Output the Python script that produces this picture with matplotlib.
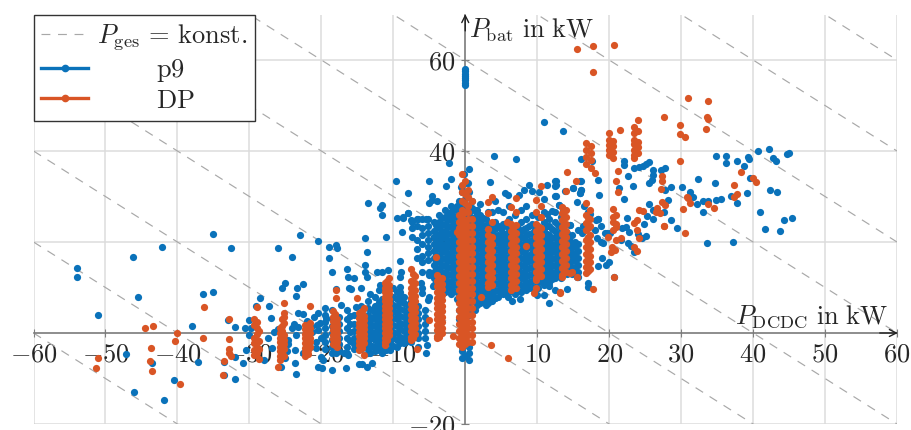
import matplotlib
matplotlib.use('Agg')
import matplotlib.pyplot as plt
from matplotlib.lines import Line2D

plt.rcParams['mathtext.fontset'] = 'cm'
plt.rcParams['font.family'] = 'serif'
plt.rcParams['font.serif'] = ['cmr10']
plt.rcParams['axes.formatter.use_mathtext'] = True

BLUE = '#0a72ba'
ORANGE = '#d95525'
TEXT = '#262626'

x_ticks = [-60, -50, -40, -30, -20, -10, 10, 20, 30, 40, 50, 60]
y_ticks = [-20, 20, 40, 60]
p_ges_levels = [-80, -60, -40, -20, 0, 20, 40, 60, 80, 100, 120]

# p9, einzelne Punkte links
p9_left_x = [-54, -53.9, -51, -46.2, -45.5, -46.1, -41.9, -42.1, -47.2, -43.6, -40.5, -38, -37.1, -35.1,
             -32.6, -36.4, -35, -33, -32, -30.1, -30.6, -29.8, -30, -30.5, -30.9, -32, -33.5, -32, -33.5, -28,
             -27.4, -27.3, -28.5, -29.1, -26.6, -26, -26, -24.1, -25.5, -25, -23.4, -22.5, -23.5, -23.3, -22.6,
             -22, -21, -20.4, -23.8, -23.2, -24.1, -23.5, -23.6, -22.5, -23.7, -23.5,
             -25.6, -20.5, -20.8, -20.4, -22.9, -20.5, -19, -18, -17.8, -18.9, -18.5, -16.5, -16.3, -15.4,
             -14, -13.7, -13.7, -14, -14, -12.2, -11.5, -10.7, -14.5, -16.2, -15.9, -18, -13.3, -11, -8.8,
             -18.5, -16.6, -14.8, -14.3, -13.7, -13, -20.1, -19.7, -19.9, -18, -16.9, -16.3, -13.2, -11.6,
             -10.4, -5.4, -5.3, -6.5, -26.8, -24.6, -25, -21.5, -20.2, -19.4,
             -20.6, -20.7, -20, -21.6, -21.3, -24.6, -24.8, -27, -19.5, -17.2, -15.2]
p9_left_y = [14.3, 12.2, 4, 16.6, 8, -13, -14.7, 19, -4.6, -6.5, -10.3, 1.6, -6.4, 21.8,
             18.7, 8.5, 9, 2.9, 1.3, 2.9, 1.2, 1.2, -0.5, -3.8, -6.7, -10.1, -9.2, -5.2, -6.3, -5.9,
             -1.2, 6, 7.6, 5.9, 0.3, 0.8, 18.6, 16.8, 10, 10.9, 9.8, 10.8, 8.2, 4.5, 4.1,
             2.7, 3.6, 4.5, 2, 1.4, 1, -0.4, -3.7, -4.5, -6.7, -9.1,
             -7.4, -7.4, -1.9, 0.7, 21.5, 20.2, 19, 19.3, 18.6, 16.4, 13.3, 14, 12.2, 12.1,
             20.8, 17.7, 12.4, 14.9, 13.5, 13.5, 13.5, 13.8, 10, 9.8, 9.6, 9.6, 8.6, 21.2, 22.3,
             -8.1, -7.8, -6.8, -6.8, -7.4, -6.7, -5.2, -5.9, -7.8, -4.5, -4.5, -4.8, -4.5, -3.7,
             -3.7, -4.5, -2.6, -3, -3.2, -2.4, -5.6, 1.3, 2.2, 3.4,
             1.8, -3.3, -1.1, -3, 0.2, -1.6, -3.9, 3.4, 5.6, 6.2, 5.7]

# p9, lockere Punkte oberhalb der Mitte
p9_upper_x = [-2.2, 4, 7, -5, -2, -2.7, -9.6, -8, -13.5, -11.5, -11.8, -11.5, -9.5, -4.6, -5, -3.9, -4.6,
              -1.2, -8, -8.6, -7.5, -6.5, -5.4, -2.5, -9, -8.6, -8, -11.8, -12, -10, -9, -9, -8.9, -6.2,
              -6, -6, -5.1, -4.5, -5, -5, -9, -10, -5.2, -0.2, 0.4, -0.6, 0, 0, 0, 0, 0, 0, 0, 0,
              3.5, 8.8, 1, 2.1, 4.2, 5.5, 5.9, 7.5, 8.1, 9.3, 10.2, 10.9, 11.3, 12, 13, 1.7, 3.2]
p9_upper_y = [37.4, 39, 38.2, 33.5, 33.8, 32.3, 33.5, 30.7, 28.6, 28.1, 27.4, 25.9, 25.3, 30.1, 28.5, 29.1, 29.2,
              27.9, 26.4, 25.4, 24.8, 25, 25, 25.6, 15.8, 25.3, 26.3, 10.5, 9.4, 10, 10.2, 12.4, 13.5, 10.9,
              9.8, 8.7, 8, 10.3, 13.5, 12.7, 9.1, 8, 7.3, 35, 33, 32, 54.5, 55, 55.5, 56, 56.5, 57, 57.5, 58,
              33.1, 32.5, 27.5, 28.3, 29, 30.7, 30.4, 30.4, 31.4, 31.2, 31, 29.4, 26.2, 26.8, 28.1, 27.1, 26.5]

# p9, rechte Seite
p9_right_x = [11, 13.6, 34.9, 36.2, 36.2, 37.8, 39.3, 39.5, 38.7, 40.7, 42.2, 42.8, 43.2, 44.7, 45, 39.6, 42.3,
              43.3, 39.2, 37, 37.8, 40.9, 45.4, 44.3, 41.6, 43.7, 33.6, 37.2, 33.1, 34.7, 32.4, 30.1, 28.6,
              27.8, 31.3, 31.7, 32.2, 33, 33.8, 34.8, 35.5, 29.4, 28.6, 28.2, 27.6, 26.1, 24.9, 25.6, 25.2,
              26.1, 25.1, 22.5, 22.6, 23.3, 21.3, 22, 18.6, 18.5, 16, 16.1, 15.9, 15, 13.8, 16.1, 17.6, 22.1,
              22.1, 23.5, 24.1, 24.7, 25.1, 25.6, 26.1, 26.1, 25.9, 25.5, 27.2, 27.7, 12.5, 12.5, 11.4, 12.5,
              18.5, 18.9, 16.4, 16.2, 14.6, 18.1, 19.4, 20.1, 18.3, 18.8, 19.2, 21.8, 22.4, 22.7, 21.7, 22.6,
              19, 20, 19.5, 18.5, 15.6, 17.1, 17.1, 14.2, 11.7, 12.5, 11, 12.6, 12.6, 12.6, 15, 16.1, 16,
              16.1, 18.5, 19.7, 15.3, 15.7, 16.7, 14.6, 16.5, 17.3, 18.2, 17, 15.5, 13, 13.6, 10, 7.6, 6.5,
              6, 4.2, 3.2, 2.9, 11.6, 15.5, 20.7, 24, 24.6, 23, 23.5]
p9_right_y = [46.4, 44.4, 38.9, 38.9, 37.3, 37.9, 38.7, 38.2, 36.6, 40.1, 40.5, 38.4, 37.7, 39.3, 39.6, 34.1, 31.4,
              30.9, 30.7, 30.2, 28.5, 26.7, 25.3, 24.8, 22.8, 22.5, 19.8, 20.1, 26.6, 32.9, 33.8, 32, 32,
              31.4, 30.9, 30, 28.4, 29.1, 29.1, 29.2, 29.5, 23, 24.9, 29.2, 26.7, 25.1, 23.9, 28.3, 25.8,
              27, 21.3, 25.3, 34.4, 32.3, 31.8, 29.5, 30.3, 33.6, 33.4, 31.4, 30.7, 31.8, 31.3, 38.2, 37.7, 37.7,
              36.9, 36.2, 36.4, 36.7, 37.1, 37.5, 35.8, 34.7, 33.6, 32.9, 35.8, 36.3, 33.3, 32.4, 32.5, 30.2,
              25, 23.6, 23.6, 21.9, 23.7, 22.6, 21.9, 21.9, 20.8, 20, 19.7, 23, 23.4, 22.3, 20.4, 19.7,
              16.4, 15.7, 14.9, 14.7, 12.2, 10.9, 10.2, 9.7, 10.3, 9.5, 8.4, 33.3, 32.5, 30.1, 31.8, 31.4, 30.7,
              33.5, 25, 21.9, 20, 22.6, 23.7, 23.7, 27.9, 26.2, 24.8, 26.5, 28.8, 28.1, 27.2, 8.4, 7.4, 7.1,
              8, 7.6, 6.5, 6.2, 6.7, 12.2, 12.2, 21.7, 20.9, 19.2, 17.8]

# p9, dichte Bereiche als Spalten
p9_col_x = [-19.5, -18.5, -17.5, -16.5, -15.5, -14.5, -13.5, -12.5, -11.5, -10.5, -9.5, -8.5, -7.5, -6.5, -5.6,
            -7.4, -6.7, -6, -5.2, -4.4, -3.6, -2.8, -2, -1.2, -0.5, 0.5, 1.3, 2.1, 2.9, 3.7, 4.5, 5.3, 6.1,
            6.9, 7.7, 8.5, 9.3, 10.1, 10.9, 11.7, 12.5, 13.3, 14.1, 14.9, 15.7]
p9_col_y = [
    [4, 2.5, 1, -0.5, -2, -3.5], [5, 3, 1.5, 0, -1.5, -3, -4.5], [3.5, 2, 0.5, -1, -2.5, -4],
    [5, 3, 1, -1, -3, -4.5], [4, 2, 0.5, -1, -2.5, -3.5], [6, 4, 2.5, 1, -0.5, -2, -3.5],
    [7, 5.5, 4, 2.5, 1, -0.5, -2, -3.5, -4.5], [8, 6, 4.5, 3, 1.5, 0, -1.5, -3, -4],
    [7.5, 6, 4.5, 3, 1.5, 0, -1.5, -3, -4.5], [7, 5.5, 4, 2.5, 1, -0.5, -2, -3.5],
    [9, 7.5, 6, 4.5, 3, 1.5, 0, -1.5, -3], [8, 6.5, 5, 3.5, 2, 0.5, -1, -2.3],
    [7, 5, 3.5, 2, 0.5, -1, -2], [6, 4.5, 3, 1.5, 0, -1.2], [5, 3.5, 2, 0.5, -1],
    [24.5, 23, 21], [25, 23.5, 20.5, 18.5, 16.5], [25, 23, 21.5, 19.5, 17, 15.5, 13.5],
    [25, 23.5, 22, 20.5, 19, 17.5, 16], [24.5, 22.5, 21, 19.5, 18, 16.5, 15, 13.5, 12, 10.5],
    [26, 24.5, 23, 21.5, 20, 18.5, 17, 15.5, 14, 12.5, 11, 9.5],
    [27, 25.5, 24, 22.5, 21, 19.5, 18, 16.5, 15, 13.5, 12, 10.5, 9],
    [28, 26.5, 25, 23.5, 22, 20.5, 19, 17.5, 16, 14.5, 13, 11.5, 10, 8.5],
    [27, 25.5, 24, 22.5, 21, 19.5, 18, 16.5, 15, 13.5, 12, 10.5, 9, 7.5],
    [31, 28, 26, 24, 22, 20, 18, 16, 14, 12, 10, 8, 6, 4, 2, 0, -2, -3, -4, -5.5],
    [36, 31, 28, 26, 24, 22, 20, 18, 16, 14, 12, 10, 8, 6, 4, -3, -4.5, -6],
    [27, 25.5, 24, 22.5, 21, 19.5, 18, 16.5, 15, 13.5, 12, 10.5, 9, 7, 5],
    [26, 24.5, 23, 21.5, 20, 18.5, 17, 15.5, 14, 12.5, 11, 9.5, 8, 6.5],
    [25, 23.5, 22, 20.5, 19, 17.5, 16, 14.5, 13, 11.5, 10, 8.5, 7],
    [26.5, 24, 22, 20.5, 19, 17.5, 16, 14.5, 13, 11.5, 10, 8.5, 7],
    [27, 23.5, 21.5, 20, 18.5, 17, 15.5, 14, 12.5, 11, 9.5, 8],
    [26.5, 24, 22, 20.5, 19, 17.5, 16, 14.5, 13, 11.5, 10, 8.5],
    [28, 25, 22.5, 21, 19.5, 18, 16.5, 15, 13.5, 12, 10.5, 9],
    [26, 23.5, 22, 20.5, 19, 17.5, 16, 14.5, 13, 11.5, 10, 8.5],
    [27, 24.5, 22.5, 21, 19.5, 18, 16.5, 15, 13.5, 12, 10.5, 9],
    [28, 25, 23, 21.5, 20, 18.5, 17, 15.5, 14, 12.5, 11, 9.5],
    [26, 24, 22, 20.5, 19, 17.5, 16, 14.5, 13, 11.5, 10],
    [25.5, 23.5, 22, 20.5, 19, 17.5, 16, 14.5, 13, 11.5, 10],
    [26.5, 24.5, 22.5, 21, 19.5, 18, 16.5, 15, 13.5, 12, 10.5],
    [25, 23.5, 21.5, 20, 18.5, 17, 15.5, 14, 12.5, 11],
    [26.5, 24.5, 22.5, 21, 19.5, 18, 16.5, 15, 13.5, 12],
    [25.5, 23, 21, 19.5, 18, 16.5, 15, 13.5, 12],
    [22, 20.5, 19, 17.5, 16, 14.5, 13], [21.5, 19, 17.5, 16, 14.5, 13], [19.5, 18, 16.5, 15, 13.5],
]

# p9, Zwischenwerte in den dichten Spalten
p9_mid_x = [-18, -16, -14, -13, -12, -11, -10, -9, -8, -4, -3.2, -2.4, -1.6, -0.9, 0, 0.9, 1.7, 2.5, 3.3, 4.1, 4.9,
            5.7, 6.5, 7.3, 8.1, 8.9, 9.7, 10.5, 11.3, 12.1, 12.9, 13.7, 14.5, 15.3]
p9_mid_y = [
    [3.8, 2.2, 0.8, -0.8, -2.2], [3.8, 2, 0.2, -1.8], [3.2, 1.8, 0.2, -1.2, -2.8],
    [5, 3.2, 1.8, 0.2, -1.2, -2.8], [6.8, 5.2, 3.8, 2.2, 0.8, -0.8, -2.2, -3.8], [6.8, 5.2, 3.8, 2.2, 0.8, -0.8, -2.2, -3.8],
    [6.2, 4.8, 3.2, 1.8, 0.2, -1.2, -2.8], [8.2, 6.8, 5.2, 3.8, 2.2, 0.8, -0.8, -2.2], [6.2, 4.2, 2.8, 1.2, -0.2, -1.8],
    [23.8, 21.8, 20.2, 18.8, 17.2, 15.8, 14.2, 12.8, 11.2], [25.2, 23.8, 22.2, 20.8, 19.2, 17.8, 16.2, 14.8, 13.2, 11.8, 10.2],
    [26.2, 24.8, 23.2, 21.8, 20.2, 18.8, 17.2, 15.8, 14.2, 12.8, 11.2, 9.8],
    [27.2, 25.8, 24.2, 22.8, 21.2, 19.8, 18.2, 16.8, 15.2, 13.8, 12.2, 10.8, 9.2],
    [29, 27, 25, 23, 21, 19, 17, 15, 13, 11, 9, 7, 5, 3],
    [33, 29.5, 27, 25, 23, 21, 19, 17, 15, 13, 11, 9, 7, 5, 3, 1, -1, -5],
    [29, 27, 25, 23, 21, 19, 17, 15, 13, 11, 9, 7, 5],
    [26.2, 24.8, 23.2, 21.8, 20.2, 18.8, 17.2, 15.8, 14.2, 12.8, 11.2, 9.8, 8.2, 6.2],
    [25.2, 23.8, 22.2, 20.8, 19.2, 17.8, 16.2, 14.8, 13.2, 11.8, 10.2, 8.8, 7.2],
    [24.2, 22.8, 21.2, 19.8, 18.2, 16.8, 15.2, 13.8, 12.2, 10.8, 9.2, 7.8],
    [24.5, 22.8, 21.2, 19.8, 18.2, 16.8, 15.2, 13.8, 12.2, 10.8, 9.2, 7.8],
    [22.8, 20.8, 19.2, 17.8, 16.2, 14.8, 13.2, 11.8, 10.2, 8.8],
    [23.5, 21.2, 19.8, 18.2, 16.8, 15.2, 13.8, 12.2, 10.8, 9.2],
    [22.2, 20.2, 18.8, 17.2, 15.8, 14.2, 12.8, 11.2, 9.8],
    [23, 21.2, 19.8, 18.2, 16.8, 15.2, 13.8, 12.2, 10.8, 9.2],
    [22.8, 20.8, 19.2, 17.8, 16.2, 14.8, 13.2, 11.8, 10.2],
    [23.5, 21.8, 20.2, 18.8, 17.2, 15.8, 14.2, 12.8, 11.2, 9.8],
    [22.8, 20.8, 19.2, 17.8, 16.2, 14.8, 13.2, 11.8, 10.2],
    [22.2, 20.2, 18.8, 17.2, 15.8, 14.2, 12.8, 11.2],
    [23.5, 21.8, 20.2, 18.8, 17.2, 15.8, 14.2, 12.8, 11.2],
    [22.8, 20.8, 19.2, 17.8, 16.2, 14.8, 13.2, 11.8],
    [23.8, 21.8, 20.2, 18.8, 17.2, 15.8, 14.2, 12.8],
    [20.8, 19.2, 17.8, 16.2, 14.8, 13.2], [20.2, 18.8, 17.2, 15.8, 14.2], [18.8, 17.2, 15.8, 14.2],
]

# DP, einzelne Punkte
dp_single_x = [-44.5, -43.4, -40, -40.3, -36.4, -36.3, -32.9, -32.9, -32.9, -32.8, -32.5, -33.5, -33.6, -43.7, -43.8,
               -43.5, -51.1, -51.3, -39.6, -28.9, -26, -18, -18, -15, -14.1, -6.7, -5, -1.7, -1.2, -4, 3.6, 6, 2.2,
               8.4, 5.8, 9.8, 9.6, 13.1, 14.8, 15.5, 15.4, 14.1, 13.1, 14.6, 15.5, 17.7, 20.7, 17.8, 31, 33.7,
               33.6, 33.8, 33.4, 29.8, 29.9, 30.5, 27.6, 29.9, 21.5, 21.2, 21, 21.2, 27.4, 27.3, 27.2, 27.6,
               30.8, 31, 31.3, 33.8, 34.5, 30.2, 37.3, 37.7, 37.3, 38.3, 40, 40.4, 27.6, 30.6, 27.3, 27.8, 26.6,
               27, 26.5, 24.1, 24.7, 23.8, 23.5, 23.9, 24.2, 23.4, 23.8, 19.9, 21, 21.7, 20.4, 20.8, 20.2, 20.7,
               17.7, 18]
dp_single_y = [1.1, 1.5, 0, -1.8, -1.2, 5.8, 3, -1.4, -3.5, -4.3, -5, -6.2, -9.2, -3.4, -6.2,
               -8.3, -5.6, -7.6, -11.3, 5.7, -7.4, 9.4, 7.6, 7.8, -4.8, -3.6, 2.9, -0.6, 22.3, 16.6, -2.6, -5.4, 8,
               19.2, 24.3, 9.8, 8.7, 9.1, 13.3, 12.4, 33.5, 35.3, 8.9, 13.1, 62.4, 63.1, 63.4, 57.4, 51.7, 51,
               47.5, 47, 44.8, 45.8, 43.7, 43.1, 47.5, 37.7, 44.6, 35.7, 33.3, 30.9, 34.5, 33.4, 31.6, 23.5,
               30, 29.6, 28.5, 28.3, 27.5, 27.3, 32.6, 30.6, 29.8, 35.4, 34.1, 33.2, 23.5, 21.9, 28.9, 28.1, 27.4,
               26.3, 26.7, 27, 26.8, 24.8, 24.2, 22.6, 20.8, 19, 18.1, 21.2, 20.4, 20.8, 19, 18.2, 17.9, 12.2,
               9.7, 35.1]

# DP, Spalten
dp_col_x = [-29.3, -28.7, -25.8, -25.2, -22.3, -21.6, -18.4, -17.8, -14.7, -14.1, -11.1, -10.6, -7.6, -7,
            -3.9, -3.3, -0.5, 0.4, 3.1, 3.7, 6.4, 7, 9.9, 10.5, 13.4, 14, 16.8, 17.4, 16.8, 17.5, 20, 20.5,
            23.4, 24, 20.5, 21]
dp_col_y = [
    [3, 1.7, -1, -2.3, -3.8, -4.9], [0.5, -1.8, -3.5, -5.7],
    [1, 0, -1, -2, -3, -4, -5, -6], [2.1, 3.6, 4.5, 6.6, -0.5, -1.5, -2.5, -3.5, -5],
    [1.8, 0.8, -0.2, -1.2, -2.2, -3.2, -4.2, -5], [2.2, 1, 0, -1, -2, -3, 5.9],
    [4.9, 3.6, 2.6, 1.6, 0.6, -0.4, -1.4, -2.4], [3, 2, 1, 0, -1, -2, -3],
    [4.3, 3.3, 2.3, 1.3, 0.3, -0.7, -1.7, -2.7, -3.7], [5.4, 3.8, 2.8, 1.8, 0.8, -0.2, -1.2, -2.2],
    [11, 10, 9, 8, 7, 6, 5, 4, 3, 2, 1, 0, -1, -2, -2.6], [12, 10.5, 9.5, 8.5, 7.5, 6.5, 5.5, 4.5, 3.5, 2.5, 1.5, 0.5, -0.5],
    [14.1, 11.5, 10, 8.8, 7.6, 6.4, 5.2, 4, 2.8, 1.6, 0.4, -0.8, -1.5], [12.5, 11, 9.5, 8.2, 7, 5.8, 4.6, 3.4, 2.2, 1, -0.2],
    [12.7, 11.5, 10.3, 9, 7.8, 6.6, 5.4, 4.2, 3, 1.8, 0.6, -0.6, -1.1], [12, 10.8, 9.6, 8.4, 7.2, 6, 4.8, 3.6, 2.4, 1.2, 0],
    [35, 32.5, 31, 29, 27, 25.5, 24, 22.5, 21, 19.5, 18, 16.5, 15, 13.5, 12, 10.5, 9, 7.5, 6, 4.5, 3, 1.5, 0, -1.5, -3],
    [31.4, 30, 28, 26.5, 25, 23.5, 22, 20.5, 19, 17.5, 16, 14.5, 13, 11.5, 10, 8.5, 7, 5.5, 4, 2.5, 1, -0.5, -2],
    [28.9, 26.3, 22.9, 21.5, 20, 18.5, 17, 15.5, 14, 12.5, 11, 10.2], [30, 24.4, 21, 19.5, 18, 16.5, 15, 13.5, 12, 10.5],
    [27.8, 24, 22.5, 21, 19.5, 18, 16.5, 15, 13.5, 12, 10.5, 9.4], [29.6, 26.5, 23.7, 22, 20.5, 19, 17.5, 16, 14.5, 13, 11.5, 10],
    [29.2, 26.5, 24, 22.5, 21, 19.5, 18, 16.5, 15, 13.5, 12, 11.6], [32.4, 28, 25.5, 23, 21.5, 20, 18.5, 17, 15.5, 14, 12.5],
    [27.8, 26.3, 24.8, 23.3, 21.8, 20.3, 18.8, 17.3, 15.8, 14.3, 12.8, 12.4], [31.3, 27, 25.5, 24, 22.5, 21, 19.5, 18, 16.5, 15, 13.5],
    [28.6, 26, 24.2, 22.7, 20.4, 18.9, 17.4, 15.9, 14.4, 13.1], [27, 25, 23.6, 21.6, 20, 18.5, 17, 15.5, 14],
    [41.7, 40.2, 38.7, 37.2], [41, 39.5, 38, 36.2],
    [43.9, 42.4, 41.3, 40.2, 39.1], [42.3, 41, 39.7, 38.5],
    [45.2, 43.9, 42.5, 41.5, 40.3, 39.2, 38.5], [46.8, 44.5, 42, 40.8, 39.5],
    [27.2, 25.6, 24.5, 22.6], [25.9, 24, 23.2],
]

# DP, Zwischenwerte in den Spalten
dp_mid_x = [-29, -25.5, -21.9, -18.1, -14.4, -10.85, -7.3, -3.6, -0.9, 0, 0.9, 3.4, 6.7, 10.2, 13.7, 17.1]
dp_mid_y = [
    [2.4, 1.1, -0.3, -1.6, -3, -4.3], [0.5, -0.5, -1.5, -2.5, -3.5, -4.5, 1.5, 3],
    [1.3, 0.3, -0.7, -1.7, -2.7, -3.7, -4.7], [4.2, 3.1, 2.1, 1.1, 0.1, -0.9, -1.9, -2.7],
    [4.8, 3.6, 2.8, 1.8, 0.8, -0.2, -1.2, -2.2, -3.2], [11.5, 9.5, 8.5, 7.5, 6.5, 5.5, 4.5, 3.5, 2.5, 1.5, 0.5, -0.5, -1.5],
    [13, 10.8, 9.4, 8.2, 7, 5.8, 4.6, 3.4, 2.2, 1, -0.2, -1.2], [12, 11, 9.7, 8.5, 7.2, 6, 4.8, 3.6, 2.4, 1.2, 0, -0.8],
    [26, 24.5, 23, 21.5, 20, 18.5, 17, 15.5, 14, 12.5, 11, 9.5, 8, 6.5, 5, 3.5, 2, 0.5, -1, -2.5],
    [33.5, 30.5, 28.5, 26.5, 24.5, 23, 21.5, 20, 18.5, 17, 15.5, 14, 12.5, 11, 9.5, 8, 6.5, 5, 3.5, 2, 0.5, -1, -2.5],
    [29, 25, 23.5, 22, 20.5, 19, 17.5, 16, 14.5, 13, 11.5, 10, 8.5, 7, 5.5, 4, 2.5, 1, -0.5, -2], [20.3, 18.8, 17.3, 15.8, 14.3, 12.8, 11.3],
    [23, 21.8, 20.3, 18.8, 17.3, 15.8, 14.3, 12.8, 11.3, 10], [23.3, 21.8, 20.3, 18.8, 17.3, 15.8, 14.3, 12.8],
    [27, 25.5, 24, 22.5, 21, 19.5, 18, 16.5, 15, 13.5], [25.3, 23, 21.2, 19.7, 18.2, 16.7, 15.2, 13.7],
]

fig = plt.figure(figsize=(9.11, 4.30), dpi=100)
ax = fig.add_axes([33.5 / 911, 1 - 424 / 430, (897 - 33.5) / 911, (424 - 14.5) / 430])
ax.set_xlim(-60, 60)
ax.set_ylim(-20, 70)
ax.set_axisbelow(True)
ax.grid(True, color='#dcdcdc', lw=1.1)

# Linien konstanter Gesamtleistung
x_ends = [-60, 60]
for level in p_ges_levels:
    ax.plot(x_ends, [level - x for x in x_ends], color='#a8a8a8', lw=0.85, dashes=(7.5, 6.5), zorder=0.8)

# p9 zuerst, DP liegt oben drauf
ms = 27
ax.scatter(p9_left_x, p9_left_y, s=ms, color=BLUE, lw=0, zorder=1)
ax.scatter(p9_upper_x, p9_upper_y, s=ms, color=BLUE, lw=0, zorder=1)
ax.scatter(p9_right_x, p9_right_y, s=ms, color=BLUE, lw=0, zorder=1)
for x, ys in zip(p9_col_x + p9_mid_x, p9_col_y + p9_mid_y):
    ax.scatter([x] * len(ys), ys, s=ms, color=BLUE, lw=0, zorder=1)
ax.scatter(dp_single_x, dp_single_y, s=ms, color=ORANGE, lw=0, zorder=2)
for x, ys in zip(dp_col_x + dp_mid_x, dp_col_y + dp_mid_y):
    ax.scatter([x] * len(ys), ys, s=ms, color=ORANGE, lw=0, zorder=2)

# Achsen durch den Ursprung
for side in ['top', 'right']:
    ax.spines[side].set_visible(False)
for side in ['left', 'bottom']:
    ax.spines[side].set_position('zero')
    ax.spines[side].set_color('#7a7a7a')
    ax.spines[side].set_linewidth(1.2)
    ax.spines[side].set_zorder(0.9)

ax.set_xticks(x_ticks)
ax.set_xticklabels([f'$-{abs(v)}$' if v < 0 else f'${v}$' for v in x_ticks])
ax.set_yticks(y_ticks)
ax.set_yticklabels([f'$-{abs(v)}$' if v < 0 else f'${v}$' for v in y_ticks])
ax.tick_params(axis='x', direction='inout', length=6, width=0.8, color='#7f7f7f', labelsize=19, labelcolor=TEXT, pad=4)
ax.tick_params(axis='y', direction='inout', length=6, width=0.8, color='#7f7f7f', labelsize=19, labelcolor=TEXT, pad=4)

# Pfeilspitzen
ax.annotate('', xy=(1.001, 0), xytext=(0.98, 0), xycoords=ax.get_yaxis_transform(), textcoords=ax.get_yaxis_transform(),
            arrowprops=dict(arrowstyle='->,head_length=0.5,head_width=0.25', color='#222222', lw=1, mutation_scale=10,
                            shrinkA=0, shrinkB=0), annotation_clip=False)
ax.annotate('', xy=(0, 1.001), xytext=(0, 0.96), xycoords=ax.get_xaxis_transform(), textcoords=ax.get_xaxis_transform(),
            arrowprops=dict(arrowstyle='->,head_length=0.5,head_width=0.25', color='#222222', lw=1, mutation_scale=10,
                            shrinkA=0, shrinkB=0), annotation_clip=False)

ax.text(0.55, 65.05, r'$P_{\mathrm{bat}}\ \mathrm{in\ kW}$', fontsize=19, color=TEXT, va='baseline', ha='left')
ax.text(58.75, 2.1, r'$P_{\mathrm{DCDC}}\ \mathrm{in\ kW}$', fontsize=19, color=TEXT, va='baseline', ha='right')

handles = [
    Line2D([], [], color='#a8a8a8', lw=0.85, dashes=(7.5, 6.5)),
    Line2D([], [], color=BLUE, lw=2.4, marker='o', ms=4.5),
    Line2D([], [], color=ORANGE, lw=2.4, marker='o', ms=4.5),
]
labels = [r'$P_{\mathrm{ges}}\,=\,\mathrm{konst.}\;\,$', r'$\qquad\;\;\mathrm{p9}$', r'$\qquad\;\;\mathrm{DP}$']
leg = ax.legend(handles, labels, loc='upper left', bbox_to_anchor=(0, 1), fontsize=19, fancybox=False,
                framealpha=1, edgecolor='#333333', borderaxespad=0, borderpad=0.3, labelspacing=0.18,
                handlelength=1.75, handletextpad=0.34, labelcolor=TEXT)
leg.set_zorder(5)

fig.savefig('out.png', dpi=100)
